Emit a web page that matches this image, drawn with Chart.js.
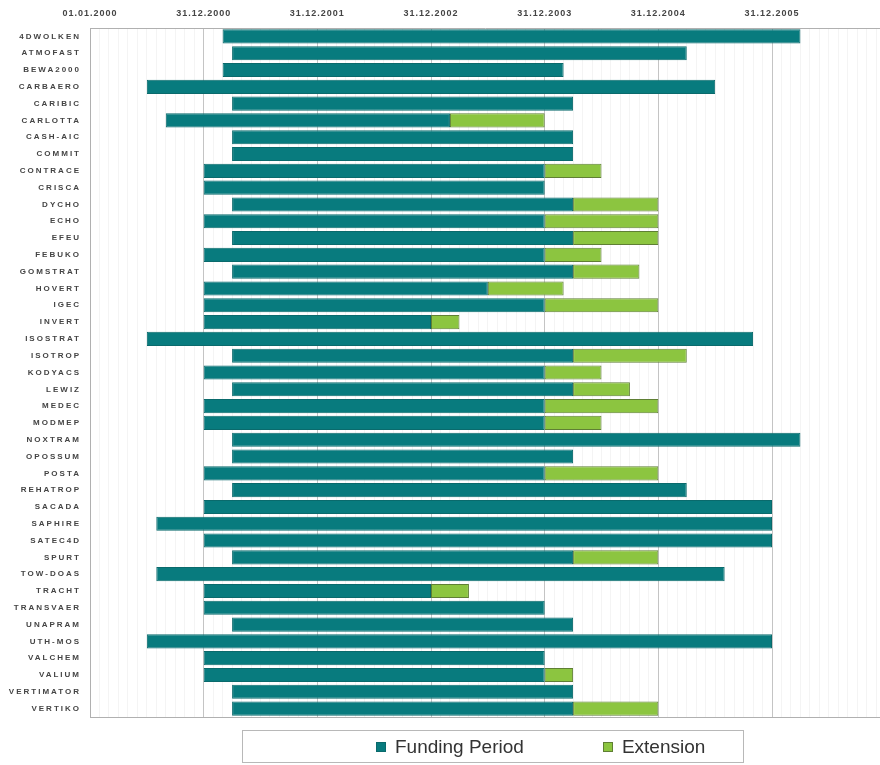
<!DOCTYPE html>
<html>
<head>
<meta charset="utf-8">
<script src="https://cdn.jsdelivr.net/npm/chart.js@4.4.1/dist/chart.umd.min.js"></script>
<style>
	body { margin: 0; background: #fff; }
	#wrap { position: relative; width: 880px; height: 765px; }
	#legend {
		position: absolute; left: 242px; top: 730px; width: 502px; height: 33px;
		border: 1px solid #b8b8b8; box-sizing: border-box;
		display: flex; align-items: center; padding-left: 133px;
		font-family: 'Liberation Sans', Arial, sans-serif; font-size: 19px; color: #333;
	}
	#legend span.box { display: inline-block; width: 10px; height: 10px; margin-right: 9px; box-sizing: border-box; }
	#legend .item { display: flex; align-items: center; }
</style>
</head>
<body>
<div id="wrap">
	<canvas id="gantt" width="880" height="765"></canvas>
	<div id="legend"></div>
</div>
<script>
// months counted from 01.01.2000
const projects = [
	'4DWOLKEN', 'ATMOFAST', 'BEWA2000', 'CARBAERO', 'CARIBIC', 'CARLOTTA', 'CASH-AIC',
	'COMMIT', 'CONTRACE', 'CRISCA', 'DYCHO', 'ECHO', 'EFEU', 'FEBUKO', 'GOMSTRAT',
	'HOVERT', 'IGEC', 'INVERT', 'ISOSTRAT', 'ISOTROP', 'KODYACS', 'LEWIZ', 'MEDEC',
	'MODMEP', 'NOXTRAM', 'OPOSSUM', 'POSTA', 'REHATROP', 'SACADA', 'SAPHIRE', 'SATEC4D',
	'SPURT', 'TOW-DOAS', 'TRACHT', 'TRANSVAER', 'UNAPRAM', 'UTH-MOS', 'VALCHEM', 'VALIUM',
	'VERTIMATOR', 'VERTIKO'
]
const fundStart = [
	14, 15, 14, 6, 15, 8, 15, 15, 12, 12, 15, 12, 15, 12, 15, 12, 12, 12, 6, 15, 12,
	15, 12, 12, 15, 15, 12, 15, 12, 7, 12, 15, 7, 12, 12, 15, 6, 12, 12, 15, 15
]
const fundEnd = [
	75, 63, 50, 66, 51, 38, 51, 51, 48, 48, 51, 48, 51, 48, 51, 42, 48, 36, 70, 51, 48,
	51, 48, 48, 75, 51, 48, 63, 72, 72, 72, 51, 67, 36, 48, 51, 72, 48, 48, 51, 51
]
const extEnd = [
	null, null, null, null, null, 48, null, null, 54, null, 60, 60, 60, 54, 58, 50, 60, 39, null, 63, 54,
	57, 60, 54, null, null, 60, null, null, null, null, 60, null, 40, null, null, null, null, 51, null, 60
]
const xTickLabels = ['01.01.2000', '31.12.2000', '31.12.2001', '31.12.2002', '31.12.2003', '31.12.2004', '31.12.2005']
const seriesNames = ['Funding Period', 'Extension']
const seriesColors = ['#087b7e', '#8cc540']
const seriesBorders = ['#0a6a6c', '#5f7f34']

const funding = projects.map((p, i) => [fundStart[i], fundEnd[i]])
const extension = projects.map((p, i) => (extEnd[i] ? [fundEnd[i], extEnd[i]] : null))

// letter spaced axis labels + bottom frame line
const spacedLabels = {
	id: 'spacedLabels',
	beforeDraw(chart) {
		[['x', '1px'], ['y', '2px']].forEach(([id, sp]) => {
			const s = chart.scales[id]
			if (s._spaced) return
			const orig = s.drawLabels.bind(s)
			s.drawLabels = (area) => {
				chart.ctx.save()
				chart.ctx.letterSpacing = sp
				orig(area)
				chart.ctx.restore()
			}
			s._spaced = true
		})
	},
	afterDraw(chart) {
		const { ctx, chartArea } = chart
		ctx.save()
		ctx.strokeStyle = '#b0b0b0'
		ctx.lineWidth = 1
		ctx.beginPath()
		ctx.moveTo(chartArea.left, chartArea.bottom + 0.5)
		ctx.lineTo(chartArea.right, chartArea.bottom + 0.5)
		ctx.stroke()
		ctx.restore()
	}
}

new Chart(document.getElementById('gantt'), {
	type: 'bar',
	data: {
		labels: projects,
		datasets: [
			{
				label: seriesNames[0],
				data: funding,
				backgroundColor: seriesColors[0],
				borderColor: seriesBorders[0],
				borderWidth: 1,
				borderSkipped: false
			},
			{
				label: seriesNames[1],
				data: extension,
				backgroundColor: seriesColors[1],
				borderColor: seriesBorders[1],
				borderWidth: 1,
				borderSkipped: false
			}
		]
	},
	options: {
		indexAxis: 'y',
		responsive: false,
		animation: false,
		grouped: false,
		barPercentage: 0.84,
		categoryPercentage: 1,
		layout: { padding: { top: 0, left: 0, right: 0, bottom: 48 } },
		plugins: {
			legend: { display: false },
			tooltip: { enabled: false }
		},
		scales: {
			x: {
				position: 'top',
				min: 0,
				max: 83.4,
				afterBuildTicks: (scale) => {
					const t = []
					for (let m = 0; m <= 83; m++) t.push({ value: m })
					scale.ticks = t
				},
				afterFit: (scale) => {
					scale.height = 28
					scale.paddingRight = 0
				},
				grid: {
					drawTicks: false,
					color: (c) => (c.tick && c.tick.value % 12 === 0 ? '#c4c4c4' : '#f4f4f4')
				},
				border: { color: '#b0b0b0' },
				ticks: {
					autoSkip: false,
					maxRotation: 0,
					padding: 9,
					color: '#444',
					font: { family: 'Liberation Sans', size: 9, weight: 'bold' },
					callback: (v) => (v % 12 === 0 ? xTickLabels[v / 12] : '')
				}
			},
			y: {
				afterFit: (scale) => { scale.width = 90 },
				grid: { display: false, drawTicks: false },
				border: { color: '#b0b0b0' },
				ticks: {
					padding: 9,
					color: '#444',
					font: { family: 'Liberation Sans', size: 8, weight: 'bold' }
				}
			}
		}
	},
	plugins: [spacedLabels]
})

document.getElementById('legend').innerHTML = seriesNames.map((n, i) =>
	`<div class="item" style="margin-right:${i === 0 ? 79 : 0}px"><span class="box" style="background:${seriesColors[i]};border:1px solid ${seriesBorders[i]}"></span>${n}</div>`
).join('')
</script>
</body>
</html>
